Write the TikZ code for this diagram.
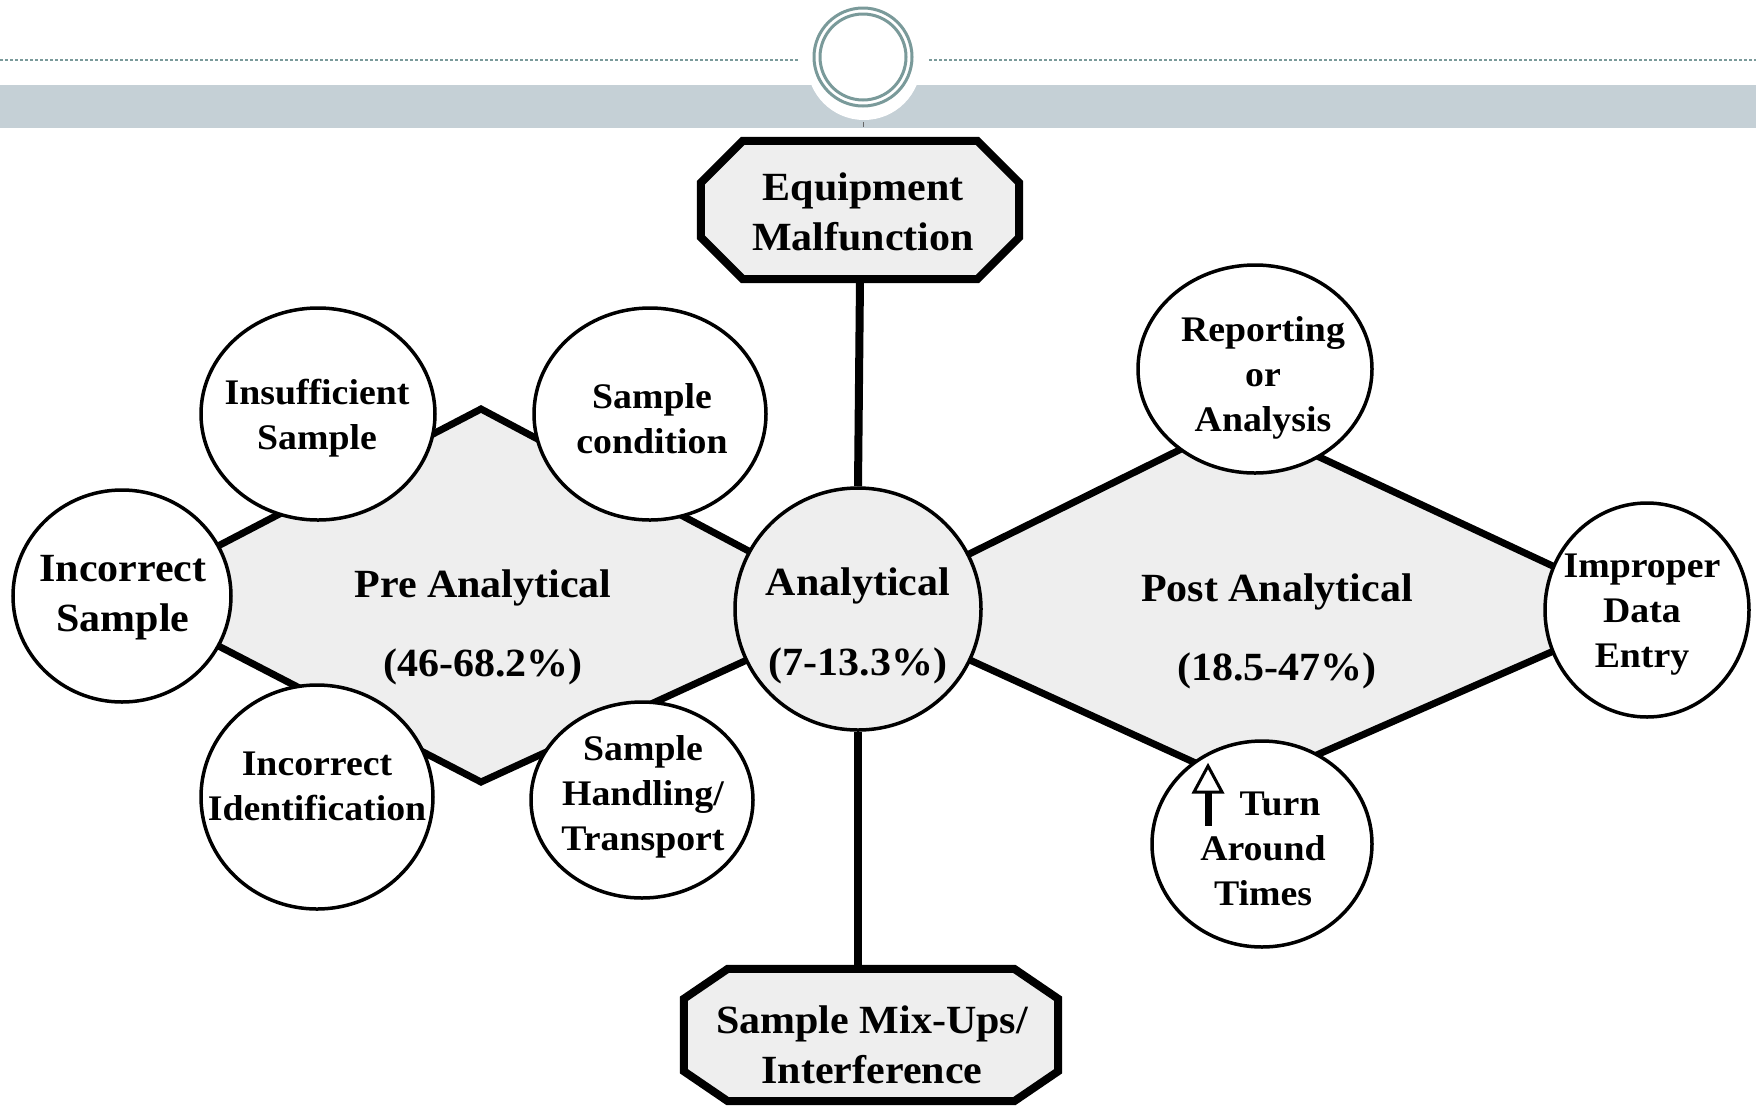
\documentclass[tikz,border=0pt]{standalone}
\usepackage{fontspec}
\setmainfont{Liberation Serif}[FakeStretch=1.05]
\usetikzlibrary{shapes.geometric}
\definecolor{bandgray}{RGB}{197,208,214}
\definecolor{ringcol}{RGB}{122,154,154}
\definecolor{fillgray}{RGB}{238,238,238}
\begin{document}
\begin{tikzpicture}[x=1pt,y=-1pt,
  ell/.style={ellipse,draw=black,line width=3.5pt,fill=white,inner sep=0pt},
  octbox/.style={rectangle,inner sep=0pt},
  octline/.style={draw=black,line width=8pt,fill=fillgray,line join=miter},
  sm/.style={align=center,font=\bfseries\fontsize{36}{45}\selectfont,inner sep=0pt},
  bg/.style={align=center,font=\bfseries\fontsize{40}{50}\selectfont,inner sep=0pt},
  dia/.style={fill=fillgray,draw=black,line width=7pt,line join=miter},
  conn/.style={draw=black,line width=8pt},
  dashline/.style={ringcol,line width=2.5pt,dash pattern=on 3pt off 2pt}]
\useasboundingbox (0,0) rectangle (1756,1109);
\fill[white] (0,0) rectangle (1756,1109);
% header decoration
\draw[dashline] (0,60) -- (798,60);
\draw[dashline] (929,60) -- (1756,60);
\fill[bandgray] (0,85) rectangle (1756,128);
\fill[white] (864,63) circle[radius=57];
\draw[ringcol,line width=3pt] (863,57) circle[radius=49];
\draw[ringcol,line width=3pt] (863,57) circle[radius=43];
\draw[black!60,line width=1pt] (863,122) -- (863,127);
% centres
\coordinate (P-ins) at (318,414);
\coordinate (P-scond) at (650,414);
\coordinate (P-isam) at (122,596);
\coordinate (P-iid) at (317,797);
\coordinate (P-shan) at (642,800);
\coordinate (P-ana) at (858,609);
\coordinate (P-rep) at (1255,369);
\coordinate (P-impr) at (1647,610);
\coordinate (P-tat) at (1262,844);
\coordinate (preT) at (481,409);
\coordinate (preB) at (481,782);
\coordinate (postT) at (1240,420);
\coordinate (postB) at (1246,786);
% diamonds
\draw[dia] (P-isam) -- (preT) -- (P-ana) -- (preB) -- cycle;
\draw[dia] (P-ana) -- (postT) -- (P-impr) -- (postB) -- cycle;
% octagons
\node[octbox,minimum width=318pt,minimum height=138pt] (equip) at (860,210) {};
\path[octline] ([xshift=42pt]equip.north west) -- ([xshift=-42pt]equip.north east)
  -- ([yshift=-42pt]equip.north east) -- ([yshift=42pt]equip.south east)
  -- ([xshift=-42pt]equip.south east) -- ([xshift=42pt]equip.south west)
  -- ([yshift=42pt]equip.south west) -- ([yshift=-42pt]equip.north west) -- cycle;
\node[octbox,minimum width=374pt,minimum height=132pt] (mix) at (871,1035) {};
\path[octline] ([xshift=44pt]mix.north west) -- ([xshift=-44pt]mix.north east)
  -- ([yshift=-30pt]mix.north east) -- ([yshift=30pt]mix.south east)
  -- ([xshift=-44pt]mix.south east) -- ([xshift=44pt]mix.south west)
  -- ([yshift=30pt]mix.south west) -- ([yshift=-30pt]mix.north west) -- cycle;
% ellipses
\node[ell,minimum width=234pt,minimum height=212pt] (ins) at (P-ins) {};
\node[ell,minimum width=232pt,minimum height=212pt] (scond) at (P-scond) {};
\node[ell,minimum width=218pt,minimum height=212pt] (isam) at (P-isam) {};
\node[ell,minimum width=232pt,minimum height=224pt] (iid) at (P-iid) {};
\node[ell,minimum width=222pt,minimum height=196pt] (shan) at (P-shan) {};
\node[ell,fill=fillgray,minimum width=246pt,minimum height=242pt] (ana) at (P-ana) {};
\node[ell,minimum width=234pt,minimum height=208pt] (rep) at (P-rep) {};
\node[ell,minimum width=204pt,minimum height=214pt] (impr) at (P-impr) {};
\node[ell,minimum width=220pt,minimum height=206pt] (tat) at (P-tat) {};
% connectors
\draw[conn] (equip.south) -- (ana.north);
\draw[conn] (ana.south) -- (ana.south |- mix.north);
% turn-around arrow
\draw[line width=3pt,fill=white,line join=miter] (1208,766) -- (1222,792) -- (1194,792) -- cycle;
\draw[line width=7pt] (1208,792) -- (1208,826);
% texts
\node[sm] (t-ins) at (317,418) {Insufficient\\Sample};
\node[sm] (t-scond) at (652,419) {Sample\\condition};
\node[bg] (t-isam) at (123,598) {Incorrect\\Sample};
\node[sm] (t-iid) at (317,786) {Incorrect\\Identification};
\node[sm] (t-shan) at (643,797) {Sample\\Handling/\\Transport};
\node[bg] (t-ana) at (858,626) {Analytical\\[30pt](7-13.3\%)};
\node[bg] (t-pre) at (483,627) {Pre Analytical\\[29pt](46-68.2\%)};
\node[bg] (t-post) at (1277,631) {Post Analytical\\[29pt](18.5-47\%)};
\node[sm] (t-rep) at (1263,378) {Reporting\\or\\Analysis};
\node[sm] (t-impr) at (1642,615) {Improper\\Data\\Entry};
\node[sm] (t-tat) at (1263,849) {\hspace*{34pt}Turn\\Around\\Times};
\node[bg] (t-equip) at (863,212) {Equipment\\Malfunction};
\node[bg] (t-mix) at (872,1045) {Sample Mix-Ups/\\Interference};
\end{tikzpicture}
\end{document}
